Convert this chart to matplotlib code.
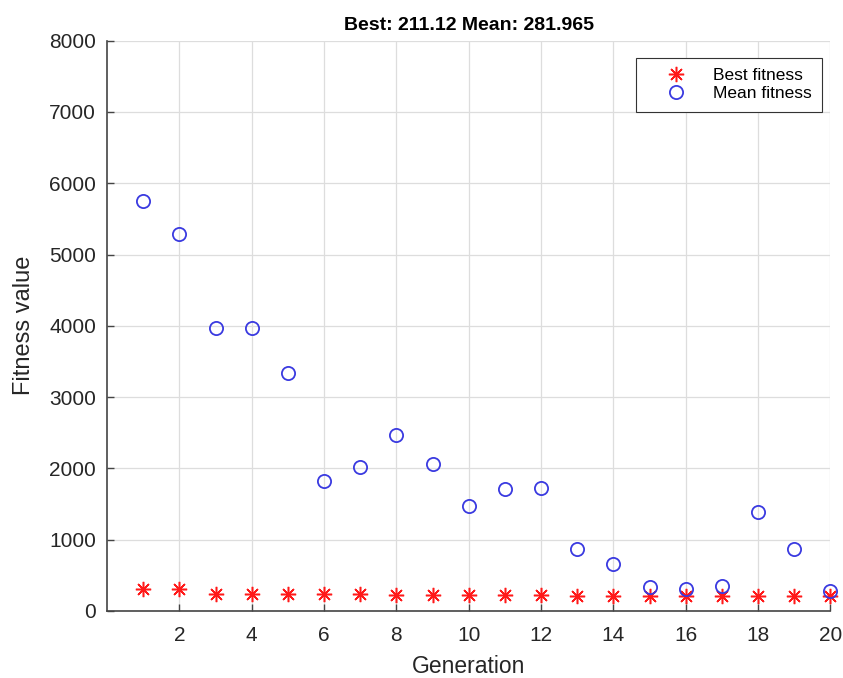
import matplotlib.pyplot as plt

plt.rcParams['font.family'] = ['Liberation Sans', 'DejaVu Sans']

# GA run: best and mean fitness per generation
generations = list(range(1, 21))
best_fitness = [310, 310, 240, 240, 240, 240, 240, 225, 225, 225,
                220, 220, 215, 215, 215, 213, 213, 212, 212, 211.12]
mean_fitness = [5745, 5294, 3964, 3964, 3343, 1825, 2021, 2469, 2063, 1466,
                1709, 1723, 873, 659, 332, 300, 346, 1391, 864, 281.965]

fig = plt.figure(figsize=(8.43, 6.78), dpi=100)
ax = fig.add_axes([0.127, 0.099, 0.858, 0.841])

# matlab-style asterisk: 8 spokes
ax.plot(generations, best_fitness, linestyle='none', marker=(8, 2, 0), color='#ff1a1a',
        markersize=11, markeredgewidth=1.1, label='Best fitness', clip_on=False, zorder=3)
ax.plot(generations, mean_fitness, linestyle='none', marker='o', markerfacecolor='none',
        markeredgecolor='#3a3ae0', markersize=9.5, markeredgewidth=1.3, label='Mean fitness',
        clip_on=False, zorder=3)

ax.set_xlim(0, 20)
ax.set_ylim(0, 8000)
ax.set_xticks(range(2, 21, 2))
ax.set_yticks(range(0, 8001, 1000))
ax.grid(True, color='#dddddd', linewidth=0.9)
ax.set_axisbelow(True)

for side in ['top', 'right']:
    ax.spines[side].set_visible(False)
for side in ['left', 'bottom']:
    ax.spines[side].set_color('#444444')
    ax.spines[side].set_linewidth(1.2)
ax.tick_params(direction='in', length=5, width=1, colors='#444444',
               labelsize=15, labelcolor='#262626')
ax.tick_params(axis='y', pad=8)
ax.tick_params(axis='x', pad=11)

ax.set_xlabel('Generation', fontsize=16.5, color='#262626', labelpad=7)
ax.set_ylabel('Fitness value', fontsize=17, color='#262626', labelpad=10)
ax.set_title('Best: 211.12 Mean: 281.965', fontsize=14, fontweight='bold', pad=8)

leg = ax.legend(loc='upper right', bbox_to_anchor=(0.989, 0.970), borderaxespad=0,
                fontsize=12.5, fancybox=False, edgecolor='#333333', framealpha=1,
                borderpad=0.6, handletextpad=0.45, labelspacing=0.15, handlelength=3.4)
leg.get_frame().set_linewidth(0.8)

fig.savefig('out.png', dpi=100)
